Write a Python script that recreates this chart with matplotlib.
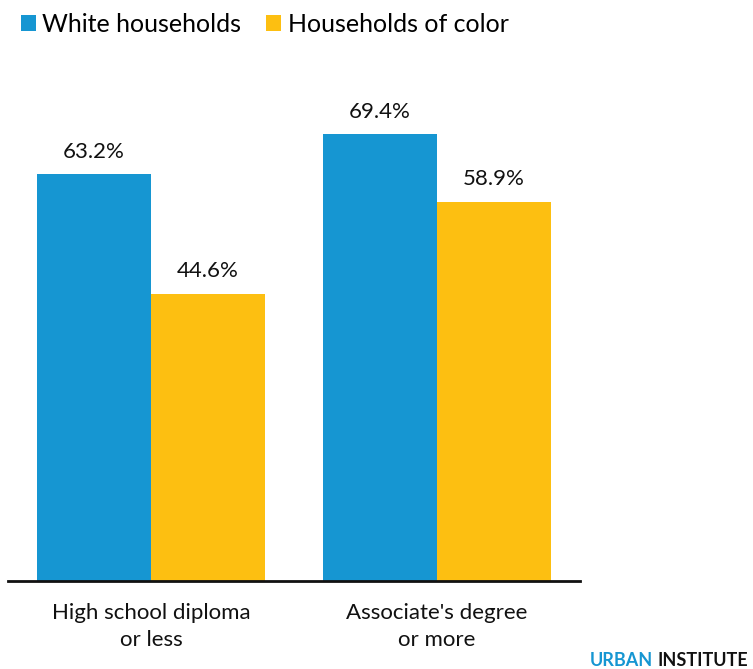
import matplotlib

matplotlib.use("Agg")
import matplotlib.pyplot as plt  # noqa: E402
import numpy as np  # noqa: E402

plt.rcParams["font.family"] = ["Lato", "DejaVu Sans"]

BLUE = "#1696d2"
YELLOW = "#fdbf11"

categorias = ["High school diploma\nor less", "Associate's degree\nor more"]
brancos = [63.2, 69.4]
cor = [44.6, 58.9]
series = ["White households", "Households of color"]

W, H, DPI = 753, 669, 100
fig = plt.figure(figsize=(W / DPI, H / DPI), dpi=DPI)
ax = fig.add_axes([8 / W, (H - 581) / H, 572 / W, 515 / H])

x = np.arange(len(categorias))
larg = 0.4
b1 = ax.bar(x - larg / 2, brancos, larg, color=BLUE, label=series[0])
b2 = ax.bar(x + larg / 2, cor, larg, color=YELLOW, label=series[1])

for barras, vals in ((b1, brancos), (b2, cor)):
    for b, v in zip(barras, vals):
        ax.annotate(f"{v:.1f}%", (b.get_x() + b.get_width() / 2, v),
                    xytext=(0, 9), textcoords="offset points",
                    ha="center", va="bottom", fontsize=16, color="#111111")

ax.set_xlim(-0.5, 1.5)
ax.set_ylim(0, 80)
ax.set_yticks([])
ax.set_xticks(x)
ax.set_xticklabels(categorias, fontsize=16, color="#111111", linespacing=1.4)
ax.tick_params(axis="x", length=0, pad=16)
for s in ("top", "right", "left"):
    ax.spines[s].set_visible(False)
ax.spines["bottom"].set_linewidth(2)
ax.spines["bottom"].set_color("#111111")

fig.legend(handles=[b1, b2], labels=series, loc="upper left",
           bbox_to_anchor=(11 / W, 1 - 3 / H), ncol=2, frameon=False,
           fontsize=18, handlelength=0.6, handleheight=0.6,
           handletextpad=0.25, columnspacing=1.0, borderaxespad=0)

fig.text(590 / W, 1 - 666 / H, "URBAN", color=BLUE, fontsize=13,
         fontweight="bold", va="baseline")
fig.text(748 / W, 1 - 666 / H, "INSTITUTE", color="#111111", fontsize=13,
         fontweight="bold", va="baseline", ha="right")

fig.savefig("out.png", dpi=DPI)
